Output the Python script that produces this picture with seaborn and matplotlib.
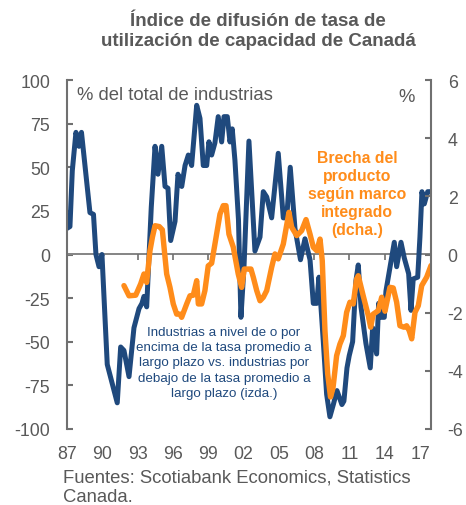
import matplotlib
matplotlib.use("Agg")
import matplotlib.pyplot as plt
import seaborn as sns
import pandas as pd

# ---------------- data ----------------
blue_years = [1987.00, 1987.25, 1987.45, 1987.76, 1988.02, 1988.23, 1988.95, 1989.25,
              1989.46, 1989.72, 1989.97, 1990.42, 1991.27, 1991.56, 1991.84, 1992.27,
              1992.69, 1993.12, 1993.37, 1993.54, 1993.77, 1994.16, 1994.48, 1994.73,
              1995.05, 1995.33, 1995.58, 1995.81, 1996.18, 1996.43, 1996.75, 1997.03,
              1997.31, 1997.59, 1998.02, 1998.30, 1998.58, 1998.87, 1999.06, 1999.29,
              1999.57, 1999.85, 2000.14, 2000.34, 2000.62, 2000.85, 2001.04, 2001.27,
              2001.57, 2001.78, 2002.04, 2002.46, 2002.97, 2003.40, 2003.68, 2003.97,
              2004.39, 2004.95, 2005.38, 2005.67, 2005.97, 2006.37, 2006.84, 2007.22,
              2007.65, 2007.93, 2008.22, 2008.41, 2008.78, 2009.06, 2009.34, 2009.63,
              2009.94, 2010.36, 2010.53, 2010.79, 2010.98, 2011.27, 2011.55, 2011.75,
              2011.98, 2012.40, 2012.77, 2012.97, 2013.31, 2013.48, 2013.68, 2013.96,
              2014.10, 2014.53, 2014.81, 2015.01, 2015.38, 2015.66, 2016.03, 2016.23,
              2016.42, 2016.80, 2016.99, 2017.16, 2017.36, 2017.65, 2017.93]
blue_values = [15, 16, 48, 70, 62, 70, 24, 23,
               0, -7, 0, -63, -85, -53, -55, -70,
               -42, -31, -28, -24, -30, 27, 62, 46,
               62, 39, 38, 8, 19, 46, 39, 51,
               57, 51, 85.5, 78, 51, 51, 64.6, 57,
               64, 79, 64.5, 79, 79, 64.5, 72, 54,
               20, -36, -7, 65, 2, 10, 36, 33,
               21, 58, 21, 21, 50, 15, -3, 9,
               -3, -28, -28, -13, -50, -80, -93, -86,
               -78, -86, -84, -65, -58, -50, -15, -6,
               -30, -51, -65, -42, -57, -28, -36, -36,
               -21, -4, 7, -7, 7, -2, -11, -32,
               -14, -13, 10, 36, 29, 36, 36]

orange_years = [1991.84, 1992.27, 1992.84, 1993.26, 1993.54, 1993.77, 1994.05, 1994.26,
                1994.48, 1994.84, 1995.10, 1995.47, 1995.75, 1996.03, 1996.32, 1996.60,
                1996.74, 1997.17, 1997.45, 1997.73, 1998.02, 1998.16, 1998.44, 1998.72,
                1999.00, 1999.29, 1999.57, 2000.00, 2000.28, 2000.51, 2000.76, 2001.13,
                2001.55, 2001.84, 2002.06, 2002.40, 2002.63, 2002.83, 2003.12, 2003.40,
                2003.68, 2003.97, 2004.39, 2004.67, 2004.95, 2005.38, 2005.86, 2006.09,
                2006.52, 2006.94, 2007.31, 2007.65, 2007.93, 2008.22, 2008.50, 2008.69,
                2008.92, 2009.15, 2009.39, 2009.60, 2009.91, 2010.19, 2010.48, 2010.76,
                2011.04, 2011.32, 2011.61, 2011.75, 2012.17, 2012.60, 2012.80, 2013.02,
                2013.45, 2013.74, 2014.02, 2014.44, 2014.72, 2015.01, 2015.29, 2015.63,
                2015.86, 2016.08, 2016.29, 2016.57, 2016.85, 2017.14, 2017.56, 2017.93]
orange_values = [-1.07, -1.42, -1.40, -1.01, -0.67, -0.96, 0.13, 0.60,
                 0.99, 0.96, 0.85, -0.67, -1.13, -1.70, -2.05, -2.05,
                 -2.16, -1.70, -1.42, -1.40, -0.90, -1.70, -1.70, -1.24,
                 -0.39, -0.30, 0.36, 1.39, 1.68, 1.68, 0.70, 0.25,
                 -0.67, -1.13, -0.50, -0.50, -0.50, -0.78, -1.24, -1.59,
                 -1.47, -1.24, -0.44, 0.02, -0.15, 0.36, 1.45, 0.94,
                 0.65, 0.82, 1.20, 0.70, 0.25, 0.13, 0.53, -0.21,
                 -2.62, -4.10, -4.90, -4.60, -3.48, -3.08, -2.79, -1.99,
                 -1.64, -1.70, -0.84, -0.73, -1.42, -2.10, -2.50, -2.05,
                 -1.93, -1.47, -1.95, -1.13, -1.15, -1.64, -2.45, -2.50,
                 -2.45, -2.62, -2.90, -1.99, -1.76, -1.07, -0.78, -0.38]

x_ticks = [1987, 1990, 1993, 1996, 1999, 2002, 2005, 2008, 2011, 2014, 2017]
x_tick_labels = ["87", "90", "93", "96", "99", "02", "05", "08", "11", "14", "17"]
left_ticks = [-100, -75, -50, -25, 0, 25, 50, 75, 100]
right_ticks = [-6, -4, -2, 0, 2, 4, 6]

title_lines = ["Índice de difusión de tasa de", "utilización de capacidad de Canadá"]
left_unit = "% del total de industrias"
right_unit = "%"
orange_label = "Brecha del\nproducto\nsegún marco\nintegrado\n(dcha.)"
blue_label = ("Industrias a nivel de o por\nencima de la tasa promedio a\n"
              "largo plazo vs. industrias por\ndebajo de la tasa promedio a\n"
              "largo plazo (izda.)")
source_lines = ["Fuentes: Scotiabank Economics, Statistics", "Canada."]

# ---------------- style ----------------
sns.set_style("white")
plt.rcParams["font.family"] = ["Liberation Sans", "DejaVu Sans"]

BLUE = "#1F497D"
ORANGE = "#FF8C1A"
GRAY = "#595959"
SPINE = "#707070"

W, H = 466, 506
fig = plt.figure(figsize=(W / 100, H / 100), dpi=100)
ax = fig.add_axes([67 / W, 1 - 430 / H, 364 / W, 349 / H])
ax2 = ax.twinx()

blue_df = pd.DataFrame({"year": blue_years, "value": blue_values})
orange_df = pd.DataFrame({"year": orange_years, "value": orange_values})

sns.lineplot(data=blue_df, x="year", y="value", ax=ax, color=BLUE, lw=3.6,
             legend=False)
sns.lineplot(data=orange_df, x="year", y="value", ax=ax2, color=ORANGE, lw=3.9,
             legend=False)

xmin, xmax = 1987.0, 2017.93
for a in (ax, ax2):
    a.set_xlim(xmin, xmax)
    a.set_xlabel("")
    a.set_ylabel("")
    a.grid(False)

ax.set_ylim(-100, 100)
ax2.set_ylim(-6, 6)

# spines
for s in ("top", "right", "bottom"):
    ax.spines[s].set_visible(False)
for s in ("top", "left", "bottom"):
    ax2.spines[s].set_visible(False)
ax.spines["left"].set_color(SPINE)
ax.spines["left"].set_linewidth(1.5)
ax2.spines["right"].set_color(SPINE)
ax2.spines["right"].set_linewidth(1.5)

ax.set_yticks(left_ticks)
ax.set_yticklabels([str(t) for t in left_ticks])
ax.tick_params(axis="y", direction="in", length=4.5, width=1.5, color=SPINE,
               labelsize=12.8, labelcolor=GRAY, pad=12)
ax2.set_yticks(right_ticks)
ax2.set_yticklabels([str(t) for t in right_ticks])
ax2.tick_params(axis="y", direction="in", length=4.5, width=1.5, color=SPINE,
                labelsize=12.8, labelcolor=GRAY, pad=12)

ax.set_xticks(x_ticks)
ax.set_xticklabels(x_tick_labels)
ax.tick_params(axis="x", length=0, labelsize=12.8, labelcolor=GRAY, pad=11.5)
ax2.tick_params(axis="x", length=0, labelbottom=False)

# zero line with tick marks
sec = ax.secondary_xaxis(0.5)
sec.set_xticks(x_ticks)
sec.spines["top"].set_color(SPINE)
sec.spines["top"].set_linewidth(1.2)
sec.spines["bottom"].set_visible(False)
sec.tick_params(axis="x", direction="in", length=4.5, width=1.2, color=SPINE,
                labeltop=False, labelbottom=False)
sec.set_zorder(0.5)
ax.set_zorder(1)
ax2.set_zorder(2)

# texts
fig.text(258 / W, 1 - 26.5 / H, title_lines[0], ha="center", va="baseline",
         fontsize=13.5, fontweight="bold", color=GRAY)
fig.text(258 / W, 1 - 46 / H, title_lines[1], ha="center", va="baseline",
         fontsize=13.5, fontweight="bold", color=GRAY)

fig.text(77 / W, 1 - 100.5 / H, left_unit, ha="left", va="baseline",
         fontsize=13.3, color=GRAY)
fig.text(398 / W, 1 - 102.5 / H, right_unit, ha="left", va="baseline",
         fontsize=13.3, color=GRAY)

fig.text(357 / W, 1 - 194.5 / H, orange_label, ha="center", va="center",
         fontsize=11.3, fontweight="bold", color=ORANGE, linespacing=1.25)
fig.text(224 / W, 1 - 363.5 / H, blue_label, ha="center", va="center",
         fontsize=9.6, color=BLUE, linespacing=1.37)

fig.text(63 / W, 1 - 483 / H, source_lines[0], ha="left", va="baseline",
         fontsize=13.3, color=GRAY)
fig.text(63 / W, 1 - 502 / H, source_lines[1], ha="left", va="baseline",
         fontsize=13.3, color=GRAY)

fig.savefig("out.png", dpi=100, facecolor="white")
